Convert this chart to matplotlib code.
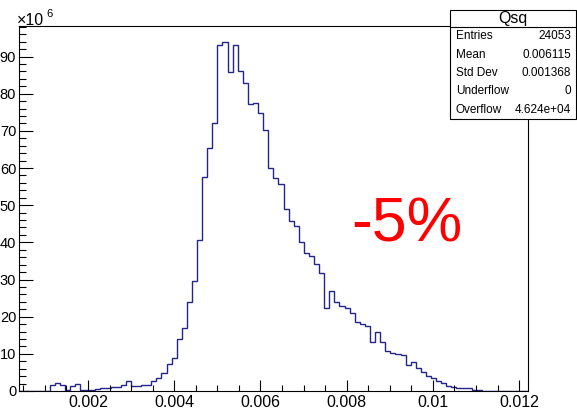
#!/usr/bin/env python3
"""ROOT-style histogram of Qsq with a stats box, redrawn in matplotlib."""
import matplotlib
matplotlib.use("Agg")
import matplotlib.pyplot as plt
import numpy as np
from matplotlib.patches import Rectangle
from matplotlib.ticker import MultipleLocator, FixedLocator, FixedFormatter

# histogram definition (values in units of 1e6)
X_MIN, X_MAX, N_BINS = 0.0004, 0.0122, 100
COUNTS = [
    0, 0, 0, 0, 0, 0, 1.5, 2.1, 1.6, 0.3,
    1.4, 2.0, 0.2, 0.2, 0.3, 0.5, 0.8, 0.9, 1.1, 1.2,
    1.5, 2.6, 1.3, 1.4, 1.5, 1.6, 2.7, 3.6, 4.9, 7.2,
    9.0, 13.9, 17.0, 24.0, 29.7, 40.6, 57.7, 65.3, 72.0, 93.1,
    93.8, 85.8, 93.1, 86.2, 82.8, 77.3, 77.6, 74.9, 70.1, 60.1,
    57.4, 55.7, 49.0, 45.8, 44.4, 40.2, 37.1, 36.4, 34.1, 31.7,
    22.3, 27.0, 23.9, 22.9, 22.3, 21.1, 18.7, 18.0, 17.5, 13.3,
    16.0, 13.3, 10.8, 10.3, 10.0, 9.8, 6.9, 7.7, 6.3, 5.2,
    4.0, 3.6, 2.7, 2.2, 1.4, 1.2, 0.7, 0.7, 0.7, 0.4,
    0.4, 0, 0, 0, 0, 0, 0, 0, 0, 0,
]
Y_MAX = 98.3

XTICKS = [0.002, 0.004, 0.006, 0.008, 0.010, 0.012]
XTICK_LABELS = ["0.002", "0.004", "0.006", "0.008", "0.01", "0.012"]
YTICKS = [0, 10, 20, 30, 40, 50, 60, 70, 80, 90]
YTICK_LABELS = [str(v) for v in YTICKS]

STATS_TITLE = "Qsq"
STATS_NAMES = ["Entries", "Mean", "Std Dev", "Underflow", "Overflow"]
STATS_VALUES = ["24053", "0.006115", "0.001368", "0", "4.624e+04"]

W, H = 577, 409
FONT = "Liberation Sans"
LINE_COLOR = "#24248a"


def fx(px):
    return px / W


def fy(py):
    return 1 - py / H


fig = plt.figure(figsize=(W / 100, H / 100), dpi=100)
fig.patch.set_facecolor("white")

left, right, top, bottom = 19, 527.7, 25.7, 391
ax = fig.add_axes([fx(left), fy(bottom), fx(right - left), (bottom - top) / H])

edges = np.linspace(X_MIN, X_MAX, N_BINS + 1)
ax.stairs(COUNTS, edges, color=LINE_COLOR, linewidth=1.0, baseline=0)

ax.set_xlim(X_MIN, X_MAX)
ax.set_ylim(0, Y_MAX)

ax.xaxis.set_major_locator(FixedLocator(XTICKS))
ax.xaxis.set_major_formatter(FixedFormatter(XTICK_LABELS))
ax.xaxis.set_minor_locator(MultipleLocator(0.0005))
ax.yaxis.set_major_locator(FixedLocator(YTICKS))
ax.yaxis.set_major_formatter(FixedFormatter(YTICK_LABELS))
ax.yaxis.set_minor_locator(MultipleLocator(2))

ax.tick_params(axis="x", which="major", direction="in", length=8, width=0.8,
               pad=3, labelsize=11.5, top=False)
ax.tick_params(axis="x", which="minor", direction="in", length=4, width=0.8, top=False)
ax.tick_params(axis="y", which="major", direction="in", length=10, width=0.8,
               pad=2, labelsize=10.5, right=False)
ax.tick_params(axis="y", which="minor", direction="in", length=5, width=0.8, right=False)
for lab in ax.get_xticklabels() + ax.get_yticklabels():
    lab.set_fontfamily(FONT)
for sp in ax.spines.values():
    sp.set_linewidth(0.8)

# exponent label of the y axis
fig.text(fx(17), fy(25), "\u00d710", fontsize=11.5, family=FONT, ha="left", va="baseline")
fig.text(fx(46), fy(17), "6", fontsize=8, family=FONT, ha="left", va="baseline")

# big red annotation
ax.text(fx(351), fy(241), "-5%", transform=fig.transFigure, fontsize=45,
        family=FONT, color="red", ha="left", va="baseline")

# stats box
bx0, bx1, by0, by1, hline = 450, 576, 9.5, 119, 27
fig.patches.append(Rectangle((fx(bx0), fy(by1)), fx(bx1 - bx0), (by1 - by0) / H,
                             transform=fig.transFigure, facecolor="white",
                             edgecolor="black", linewidth=0.8, zorder=5))
fig.add_artist(plt.Line2D([fx(bx0), fx(bx1)], [fy(hline), fy(hline)],
                          transform=fig.transFigure, color="black", linewidth=0.8, zorder=6))
fig.text(fx((bx0 + bx1) / 2), fy((by0 + hline) / 2), STATS_TITLE, fontsize=11.5,
         family=FONT, ha="center", va="center", zorder=7)
row_h = (by1 - hline) / len(STATS_NAMES)
for i, (name, val) in enumerate(zip(STATS_NAMES, STATS_VALUES)):
    yc = hline + row_h * (i + 0.5)
    fig.text(fx(bx0 + 6), fy(yc), name, fontsize=8.5, family=FONT,
             ha="left", va="center", zorder=7)
    fig.text(fx(bx1 - 5), fy(yc), val, fontsize=8.5, family=FONT,
             ha="right", va="center", zorder=7)

fig.savefig("out.png", dpi=100)
